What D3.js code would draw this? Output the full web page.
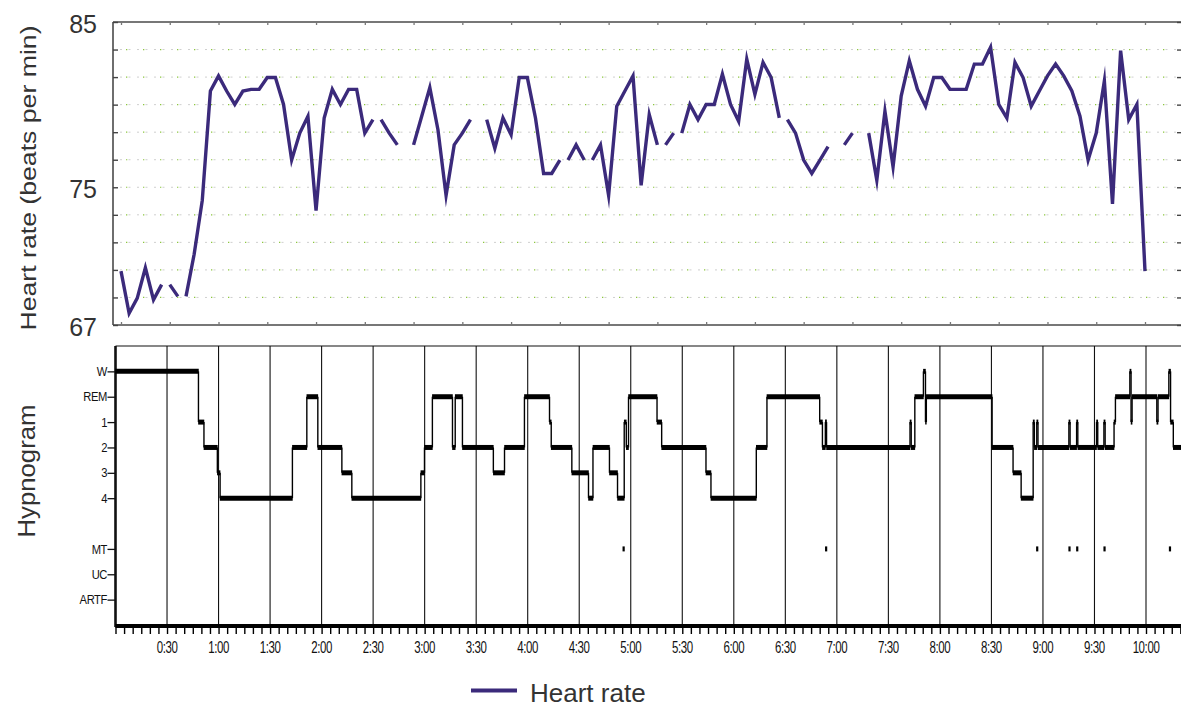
<!DOCTYPE html>
<html><head><meta charset="utf-8">
<script src="https://cdn.jsdelivr.net/npm/d3@7"></script>
<style>body{margin:0;background:#fff} svg{display:block}</style>
</head><body>
<svg id="c" width="1181" height="707"></svg>
<script>
// ---- Heart rate (one value every 5 min, null = missing) ----
const hrValues = [
  70.2, 67.7, 68.6, 70.4, 68.5, 69.4, 69.4, 68.7, 68.7, 71.2,
  74.4, 80.9, 81.8, 80.9, 80.1, 80.9, 81.0, 81.0, 81.7, 81.7,
  80.1, 76.8, 78.4, 79.4, 73.8, 79.3, 81.0, 80.1, 81.0, 81.0,
  78.4, 79.2, 79.2, 78.4, 77.7, null, 77.7, 79.4, 81.1, 78.6,
  74.7, 77.7, 78.4, 79.2, null, 79.2, 77.5, 79.3, 78.3, 81.7,
  81.7, 79.3, 76.0, 76.0, 76.8, 76.8, 77.7, 76.8, 76.8, 77.7,
  74.7, 80.0, 80.9, 81.8, 75.3, 79.5, 77.7, 77.7, 78.4, 78.4,
  80.1, 79.2, 80.1, 80.1, 81.9, 80.1, 79.1, 82.8, 80.7, 82.6,
  81.7, 79.3, 79.2, 78.4, 76.8, 76.0, 76.8, 77.6, null, 77.7,
  78.4, null, 78.4, 75.6, 79.7, 76.4, 80.6, 82.7, 81.0, 80.0,
  81.7, 81.7, 81.0, 81.0, 81.0, 82.5, 82.5, 83.5, 80.1, 79.3,
  82.6, 81.7, 80.0, 80.9, 81.8, 82.5, 81.8, 80.9, 79.4, 76.8,
  78.4, 81.5, 74.2, 83.3, 79.2, 80.1, 70.2
];
// line is interrupted right after these sample indices
const hrBreakAfter = [5, 7, 31, 54, 57, 66, 68, 81];
const hrTickValues = [67, 67 + 18 * 5 / 11, 85];

// ---- Hypnogram: [start minute, stage] ----
const stageNames = ["W", "REM", "1", "2", "3", "4", "MT", "UC", "ARTF"];
const stageLevels = [1, 2, 3, 4, 5, 6, 8, 9, 10];
const hypnogram = [
  [0,"W"],[48.3,"1"],[51.5,"2"],[59.3,"3"],[60.9,"4"],[103,"2"],[111.4,"REM"],[117.8,"2"],
  [131.8,"3"],[137.6,"4"],[177.8,"3"],[179.9,"2"],[184.5,"REM"],[196.2,"2"],[197.8,"REM"],
  [202,"2"],[220,"3"],[226.5,"2"],[238.1,"REM"],[252.7,"1"],[253.7,"2"],[265.7,"3"],
  [275.4,"4"],[278,"2"],[287.6,"3"],[292.3,"4"],[296.2,"1"],[297.4,"2"],[298.7,"REM"],
  [315.3,"1"],[318,"2"],[343.8,"3"],[346.7,"4"],[373.1,"2"],[379.3,"REM"],[410,"1"],
  [411.6,"2"],[413.3,"1"],[414,"2"],[462.6,"1"],[463.3,"2"],[465.4,"REM"],[470.4,"W"],
  [471.6,"1"],[472.1,"REM"],[510.4,"2"],[522.6,"3"],[527.3,"4"],[534.3,"1"],[535,"2"],
  [536.4,"1"],[537.1,"2"],[555.1,"1"],[555.8,"2"],[559.6,"1"],[560.3,"2"],[571.2,"1"],
  [571.9,"2"],[575.5,"1"],[576.2,"2"],[581.4,"1"],[582.2,"REM"],[590.6,"W"],[591.3,"1"],
  [591.9,"REM"],[606.3,"1"],[607,"REM"],[613.3,"W"],[614.3,"1"],[615.9,"2"]
];
const hypEnd = 620.6;
const mtMarks = [295.8, 413.7, 536.6, 555.4, 559.9, 575.8, 613.9];
const timeTicks = d3.range(30, 601, 30);
const timeLabels = timeTicks.map(m => Math.floor(m / 60) + ":" + String(m % 60).padStart(2, "0"));

const legendLabel = "Heart rate";
const hrTitle = "Heart rate (beats per min)";
const hypTitle = "Hypnogram";

// ---------------- drawing ----------------
const svg = d3.select("#c");
const purple = "#3b2a7b";
const font = "'Liberation Sans', Arial, sans-serif";

// ---- top chart ----
const L = 113, R = 1180, T = 22, B = 325;
const x = d3.scaleLinear().domain([0, hrValues.length - 1]).range([121, 1145]);
const y = d3.scaleLinear().domain([67, 85]).range([B, T]);
const gridVals = d3.range(12).map(k => 67 + k * 18 / 11);

const grid = svg.append("g");
gridVals.slice(1, 11).forEach(v => {
  grid.append("line").attr("x1", 120).attr("x2", 1178).attr("y1", y(v)).attr("y2", y(v))
    .attr("stroke", "#cfcfcf").attr("stroke-width", 1).attr("stroke-dasharray", "2,6.5");
  grid.append("line").attr("x1", 126).attr("x2", 1178).attr("y1", y(v)).attr("y2", y(v))
    .attr("stroke", "#8cc63f").attr("stroke-width", 1.2).attr("stroke-dasharray", "1.3,15.7");
});

// frame
const frame = svg.append("g").attr("stroke", "#4a4a4a").attr("stroke-width", 1.6);
frame.append("line").attr("x1", L).attr("x2", 1181).attr("y1", T).attr("y2", T);
frame.append("line").attr("x1", L).attr("x2", 1181).attr("y1", B).attr("y2", B);
frame.append("line").attr("x1", L).attr("x2", L).attr("y1", T).attr("y2", B);

// left / right y ticks
const yAxisL = d3.axisRight(y).tickValues(gridVals).tickSize(5).tickFormat("");
const gyl = svg.append("g").attr("transform", `translate(${L},0)`).call(yAxisL);
gyl.select(".domain").remove();
gyl.selectAll("line").attr("stroke", "#444").attr("stroke-width", 1.4);
const yAxisR = d3.axisLeft(y).tickValues(gridVals).tickSize(4).tickFormat("");
const gyr = svg.append("g").attr("transform", `translate(1181,0)`).call(yAxisR);
gyr.select(".domain").remove();
gyr.selectAll("line").attr("stroke", "#444").attr("stroke-width", 1.4);

// x ticks top & bottom
const xTicks = d3.range(0, hrValues.length, 6);
const gxt = svg.append("g").attr("transform", `translate(0,${T})`)
  .call(d3.axisBottom(x).tickValues(xTicks).tickSize(3).tickFormat(""));
gxt.select(".domain").remove();
gxt.selectAll("line").attr("stroke", "#777").attr("stroke-width", 1.3);
const gxb = svg.append("g").attr("transform", `translate(0,${B})`)
  .call(d3.axisTop(x).tickValues(xTicks).tickSize(3).tickFormat(""));
gxb.select(".domain").remove();
gxb.selectAll("line").attr("stroke", "#777").attr("stroke-width", 1.3);

// y tick labels
svg.append("g").selectAll("text").data(hrTickValues).join("text")
  .attr("x", 97).attr("y", d => y(d) + 10.5)
  .attr("text-anchor", "end").attr("font-family", font).attr("font-size", 25)
  .attr("fill", "#333").text(d => d3.format(".0f")(d));

// y title
svg.append("text").attr("transform", "translate(36,178) rotate(-90)")
  .attr("text-anchor", "middle").attr("font-family", font).attr("font-size", 22)
  .attr("textLength", 305).attr("lengthAdjust", "spacingAndGlyphs")
  .attr("fill", "#333").text(hrTitle);

// heart-rate line
const pts = [];
hrValues.forEach((v, i) => {
  pts.push({ i, v });
  if (hrBreakAfter.includes(i)) pts.push({ i: i + 0.5, v: null });
});
const line = d3.line().defined(d => d.v != null).x(d => x(d.i)).y(d => y(d.v));
svg.append("path").datum(pts).attr("d", line).attr("fill", "none")
  .attr("stroke", purple).attr("stroke-width", 3.4)
  .attr("stroke-linejoin", "miter").attr("stroke-miterlimit", 10);

// ---- hypnogram ----
const HT = 346, HB = 625, HL = 115.5;
const tx = d3.scaleLinear().domain([0, 600]).range([HL, 1146]);
const ly = d3.scaleLinear().domain([0, 11]).range([HT, HB]);
const lvl = s => stageLevels[stageNames.indexOf(s)];

// top border
svg.append("line").attr("x1", HL).attr("x2", 1181).attr("y1", HT).attr("y2", HT)
  .attr("stroke", "#111").attr("stroke-width", 1.2);
// vertical half-hour lines
svg.append("g").selectAll("line").data(timeTicks).join("line")
  .attr("x1", d => tx(d)).attr("x2", d => tx(d)).attr("y1", HT).attr("y2", HB)
  .attr("stroke", "#111").attr("stroke-width", 1.1);

// left axis with stage ticks
const gl = svg.append("g").attr("transform", `translate(${HL},0)`)
  .call(d3.axisLeft(ly).tickValues(stageLevels).tickSize(8).tickFormat(""));
gl.select(".domain").remove();
gl.selectAll("line").attr("stroke", "#111").attr("stroke-width", 1.3);
svg.append("line").attr("x1", HL).attr("x2", HL).attr("y1", HT).attr("y2", HB + 2)
  .attr("stroke", "#111").attr("stroke-width", 2.6);
svg.append("g").selectAll("text").data(stageNames).join("text")
  .attr("transform", (d, i) => `translate(107,${ly(stageLevels[i]) + 4.6}) scale(1,1.22)`)
  .attr("text-anchor", "end").attr("font-family", font).attr("font-size", 11.2)
  .attr("letter-spacing", -0.4).attr("fill", "#111").text(d => d);

// stage segments (thick) and transitions (thin)
const segs = hypnogram.map((d, k) => ({
  s: d[0], e: k < hypnogram.length - 1 ? hypnogram[k + 1][0] : hypEnd, l: lvl(d[1])
}));
svg.append("g").selectAll("line").data(segs).join("line")
  .attr("x1", d => tx(d.s) - 0.3).attr("x2", d => tx(d.e) + 0.3)
  .attr("y1", d => ly(d.l)).attr("y2", d => ly(d.l))
  .attr("stroke", "#000").attr("stroke-width", 5);
svg.append("g").selectAll("line").data(segs.slice(1)).join("line")
  .attr("x1", d => tx(d.s)).attr("x2", d => tx(d.s))
  .attr("y1", (d, k) => ly(segs[k].l)).attr("y2", d => ly(d.l))
  .attr("stroke", "#000").attr("stroke-width", 1.4);

// MT marks
svg.append("g").selectAll("rect").data(mtMarks).join("rect")
  .attr("x", d => tx(d) - 1).attr("y", ly(8) - 2.5).attr("width", 2.2).attr("height", 5)
  .attr("fill", "#000");

// bottom baseline + ticks
svg.append("line").attr("x1", HL).attr("x2", 1181).attr("y1", HB + 1).attr("y2", HB + 1)
  .attr("stroke", "#000").attr("stroke-width", 4);
const gb = svg.append("g").attr("transform", `translate(0,${HB + 2})`)
  .call(d3.axisBottom(tx).tickValues(d3.range(0, 621, 5)).tickSize(7).tickFormat(""));
gb.select(".domain").remove();
gb.selectAll("line").attr("stroke", "#000").attr("stroke-width", 1.4);
svg.append("g").selectAll("text").data(timeTicks).join("text")
  .attr("transform", d => `translate(${tx(d)},${652.5}) scale(1,1.5)`)
  .attr("text-anchor", "middle").attr("font-family", font).attr("font-size", 11.5)
  .attr("letter-spacing", -0.4).attr("fill", "#111").text((d, i) => timeLabels[i]);

// hypnogram title
svg.append("text").attr("transform", "translate(35,471) rotate(-90)")
  .attr("text-anchor", "middle").attr("font-family", font).attr("font-size", 23)
  .attr("textLength", 133).attr("lengthAdjust", "spacingAndGlyphs")
  .attr("fill", "#333").text(hypTitle);

// ---- legend ----
svg.append("line").attr("x1", 471).attr("x2", 517).attr("y1", 690.5).attr("y2", 690.5)
  .attr("stroke", purple).attr("stroke-width", 3.8);
svg.append("text").attr("x", 530).attr("y", 701.5).attr("font-family", font)
  .attr("font-size", 26).attr("fill", "#333").text(legendLabel);
</script>
</body></html>
